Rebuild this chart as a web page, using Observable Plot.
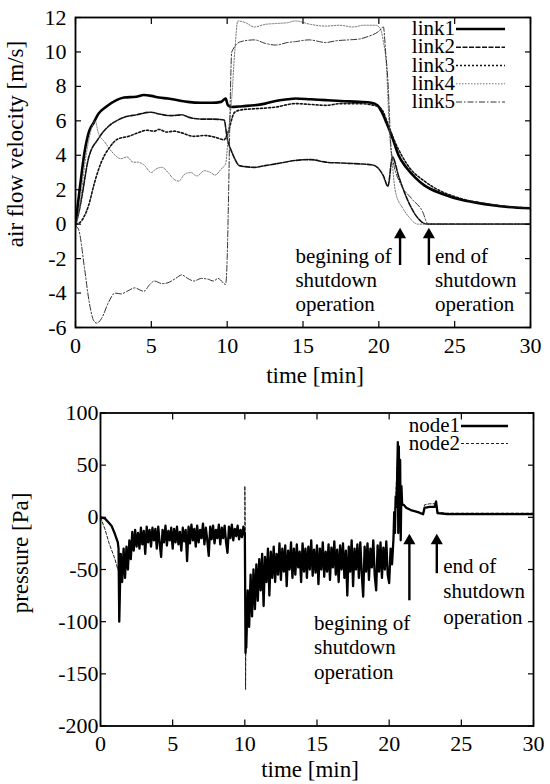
<!DOCTYPE html>
<html><head><meta charset="utf-8">
<script src="https://cdn.jsdelivr.net/npm/d3@7"></script>
<script src="https://cdn.jsdelivr.net/npm/@observablehq/plot@0.6"></script>
<style>
body{margin:0;background:#fff;}
#chart{width:550px;}
#chart svg{display:block;}
</style></head><body><div id="chart"></div>
<script>
const FONT = "'Liberation Serif', 'Times New Roman', serif";

// ---------- top panel: air flow velocity [m/s] vs time [min] ----------
const velXTicks = [0, 5, 10, 15, 20, 25, 30];
const velYTicks = [-6, -4, -2, 0, 2, 4, 6, 8, 10, 12];
const linkNames = ["link1", "link2", "link3", "link4", "link5"];

const link1 = [[0,0],[0.3,2.2],[0.6,4.2],[0.9,5.4],[1.2,5.9],[1.5,6.4],[2.0,6.8],[2.7,7.2],[3.2,7.35],[4.0,7.4],[4.5,7.5],[5.0,7.45],[5.5,7.35],[6.1,7.3],[7.0,7.15],[7.4,7.1],[8.3,7.05],[9.0,7.05],[9.6,7.1],[9.9,7.3],[10.05,6.9],[10.3,6.8],[11.0,6.85],[11.8,6.9],[12.5,7.0],[13.2,7.15],[14.0,7.25],[14.5,7.3],[15.5,7.25],[16.5,7.2],[17.5,7.15],[18.7,7.1],[19.5,7.05],[19.9,6.9],[20.2,6.5],[20.5,5.9],[20.9,5.0],[21.3,4.0],[21.8,3.3],[22.4,2.7],[23.0,2.25],[24.2,1.75],[25.5,1.4],[26.4,1.25],[27.5,1.1],[28.5,1.0],[30,0.92]];
const link2 = [[0,0],[0.2,0.6],[0.4,1.5],[0.85,3.8],[1.5,4.95],[2.2,5.7],[2.7,6.0],[3.2,6.2],[4.0,6.35],[5.0,6.5],[5.5,6.4],[6.3,6.3],[7.0,6.35],[7.5,6.2],[8.3,6.1],[9.0,6.1],[9.8,6.05],[10.0,5.0],[10.3,4.2],[10.5,3.8],[10.8,3.4],[11.8,3.3],[12.5,3.4],[13.2,3.5],[14.5,3.7],[15.5,3.75],[16.5,3.6],[17.5,3.55],[18.7,3.5],[19.5,3.45],[19.9,3.3],[20.3,2.8],[20.6,2.2],[20.9,3.9],[21.3,2.8],[21.8,1.6],[22.3,0.7],[22.8,0.15],[23.2,0],[30,0]];
const link3 = [[0,0],[0.3,0.1],[0.6,0.5],[0.85,1.05],[1.25,2.4],[1.7,3.6],[2.2,4.4],[2.8,4.95],[3.5,5.1],[4.1,5.3],[4.7,5.45],[5.2,5.4],[5.5,5.5],[6.0,5.35],[6.5,5.4],[7.0,5.3],[7.8,5.1],[8.5,5.15],[9.2,5.05],[9.8,4.9],[10.0,5.2],[10.5,6.5],[11.0,6.65],[11.8,6.7],[13.2,6.8],[14.5,7.0],[15.5,6.95],[16.5,6.9],[17.5,7.0],[18.7,7.0],[19.9,6.85],[20.3,6.5],[20.6,5.8],[21.0,4.9],[21.5,4.0],[22.0,3.3],[23.0,2.5],[24.0,1.95],[25.0,1.6],[26.0,1.35],[27.0,1.2],[28.0,1.07],[30,0.93]];
const link4 = [[0,-0.3],[0.3,1.2],[0.6,3.4],[0.9,5.0],[1.2,5.9],[1.3,6.0],[1.5,5.3],[1.9,4.8],[2.4,4.2],[3.0,3.8],[3.4,3.9],[3.8,3.6],[4.1,3.6],[4.5,3.45],[5.0,3.0],[5.3,3.2],[5.7,3.3],[6.1,3.0],[6.5,2.6],[6.8,2.5],[7.2,2.9],[7.6,3.0],[8.0,2.8],[8.5,3.1],[8.9,3.0],[9.2,2.85],[9.6,3.2],[9.9,3.5],[10.1,5.5],[10.3,7.3],[10.5,10.0],[10.7,11.8],[11.2,11.7],[11.8,11.45],[12.5,11.6],[13.2,11.65],[14.0,11.7],[14.5,11.8],[15.5,11.6],[16.5,11.5],[17.4,11.55],[18.3,11.45],[19.0,11.55],[19.8,11.55],[20.1,11.35],[20.3,10.6],[20.5,9.2],[20.7,5.4],[20.9,3.4],[21.1,1.85],[21.6,0.9],[22.0,0.4],[22.4,0.05],[22.6,0],[30,0]];
const link5 = [[0,-0.1],[0.2,-0.3],[0.6,-2.6],[0.9,-4.5],[1.2,-5.6],[1.4,-5.75],[1.7,-5.5],[2.2,-4.5],[2.6,-4.0],[3.0,-4.05],[3.4,-3.9],[3.9,-3.7],[4.2,-3.8],[4.5,-3.9],[4.9,-3.5],[5.2,-3.3],[5.7,-3.45],[6.1,-3.4],[6.6,-3.15],[7.0,-2.95],[7.4,-3.15],[7.8,-3.3],[8.3,-3.15],[8.75,-3.2],[9.1,-3.3],[9.4,-3.15],[9.9,-3.5],[10.0,-2.0],[10.1,2.0],[10.2,7.0],[10.3,10.0],[10.9,10.6],[11.8,10.7],[12.5,10.5],[13.2,10.4],[14.0,10.55],[14.5,10.6],[15.4,10.7],[16.5,10.55],[17.2,10.65],[18.0,10.7],[18.7,10.75],[19.3,10.9],[20.0,11.2],[20.3,11.45],[20.45,10.0],[20.6,8.3],[20.8,4.5],[21.0,3.4],[21.4,2.4],[22.2,1.45],[22.9,0.7],[23.2,0.05],[23.4,0],[30,0]];

// ---------- bottom panel: pressure [Pa] vs time [min] ----------
const presXTicks = [0, 5, 10, 15, 20, 25, 30];
const presYTicks = [-200, -150, -100, -50, 0, 50, 100];
const nodeNames = ["node1", "node2"];

const node1Start = [[0,0],[0.3,-1],[0.5,-4],[0.76,-8],[1.0,-16],[1.2,-24],[1.25,-30]];
const node2Start = [[0,0],[0.3,-11],[0.6,-25],[1.0,-40],[1.2,-50],[1.25,-45]];
// sampled pressure fluctuation (both nodes overlap), 0.1 min sampling
const noiseAStart = 1.3, noiseBStart = 10.1, noiseStep = 0.1;
const noiseA = [-100,-35,-62,-30,-58,-28,-50,-22,-40,-14,
  -32,-12,-28,-15,-30,-10,-26,-13,-35,-9,
  -24,-12,-28,-10,-22,-11,-30,-9,-25,-38,
  -12,-24,-8,-27,-13,-22,-10,-30,-11,-24,
  -9,-26,-14,-32,-10,-23,-12,-42,-9,-25,
  -7,-22,-11,-28,-8,-24,-12,-20,-6,-26,
  -10,-22,-37,-9,-21,-8,-25,-12,-20,-7,
  -26,-10,-20,-8,-24,-34,-9,-20,-7,-22,
  -11,-18,-8,-21,-12,-19,-9,-18];
const node1Mid = [[10.0,-15],[10.05,-130],[10.08,-80]];
const node2Mid = [[10.0,-15],[10.0,30],[10.03,-10],[10.05,-165],[10.08,-100]];
const noiseB = [-125,-70,-105,-55,-95,-50,-88,-45,-80,-40,
  -70,-35,-85,-38,-62,-30,-75,-33,-58,-28,
  -62,-35,-55,-25,-60,-30,-52,-27,-66,-32,
  -50,-24,-58,-30,-55,-26,-48,-33,-62,-25,
  -52,-30,-58,-28,-50,-22,-56,-31,-53,-27,
  -64,-30,-50,-24,-57,-33,-52,-26,-60,-29,
  -48,-23,-55,-31,-62,-27,-50,-25,-58,-32,
  -75,-28,-52,-22,-66,-30,-50,-26,-58,-24,
  -54,-76,-28,-52,-25,-60,-30,-48,-22,-56,
  -70,-27,-52,-24,-58,-29,-50,-23,-55,-63,
  -30,-45,-20];
const node1End = [[20.3,-20],[20.35,5],[20.4,-15],[20.45,20],[20.5,10],[20.55,35],[20.6,72],[20.63,-15],[20.67,68],[20.72,-5],[20.76,55],[20.8,-22],[20.85,30],[20.9,12],[21.0,12],[21.2,9],[21.5,7],[22.0,5],[22.35,3],[22.45,9],[22.8,10],[23.15,10],[23.25,15],[23.35,4],[24.0,3],[30,3]];
const node2End = [[20.3,-20],[20.45,18],[20.6,65],[20.7,10],[20.9,14],[21.2,10],[21.5,7],[22.0,5],[22.35,3],[22.45,12],[22.8,13],[23.15,13],[23.25,16],[23.35,5],[24.0,4],[30,4]];

// ---------- annotations ----------
const shutdownTimes = [21.4, 23.3];
const noteBegin = "begining of\nshutdown\noperation";
const noteEnd = "end of\nshutdown\noperation";

// ---------- helpers ----------
const pairs = (arr, yk) => arr.map(([t, v]) => ({t, [yk]: v}));
const sampled = (vals, t0) => vals.map((p, i) => ({t: +(t0 + i * noiseStep).toFixed(3), p}));
const node1Rows = [...pairs(node1Start,"p"), ...sampled(noiseA, noiseAStart), ...pairs(node1Mid,"p"), ...sampled(noiseB, noiseBStart), ...pairs(node1End,"p")];
const node2Rows = [...pairs(node2Start,"p"), ...sampled(noiseA, noiseAStart), ...pairs(node2Mid,"p"), ...sampled(noiseB, noiseBStart), ...pairs(node2End,"p")];

const linkStyles = [
  {stroke: "#000", width: 2.6, dash: null},
  {stroke: "#111", width: 1.6, dash: "5,1.5"},
  {stroke: "#111", width: 1.6, dash: "2,2"},
  {stroke: "#666", width: 0.9, dash: "1.5,1.5"},
  {stroke: "#333", width: 1.0, dash: "6,2,1.5,2"}
];
const nodeStyles = [
  {stroke: "#000", width: 2.3, dash: null},
  {stroke: "#222", width: 1.0, dash: "3,2"}
];
const linkData = [link1, link2, link3, link4, link5];
const plain = d => `${d}`;

function frameAxes(xTicks, yTicks, pad) {
  return [
    Plot.frame({stroke: "black", strokeWidth: 1.8}),
    Plot.axisX(xTicks, {anchor: "bottom", tickSize: -6, fill: "none", label: null, strokeWidth: 1.2}),
    Plot.axisX(xTicks, {anchor: "top", tickSize: -6, fill: "none", label: null, strokeWidth: 1.2}),
    Plot.axisY(yTicks, {anchor: "left", tickSize: -6, fill: "none", label: null, strokeWidth: 1.2}),
    Plot.axisY(yTicks, {anchor: "right", tickSize: -6, fill: "none", label: null, strokeWidth: 1.2}),
    Plot.axisX(xTicks, {anchor: "bottom", tickSize: 0, tickPadding: pad.x, label: null, fontSize: 22, tickFormat: plain}),
    Plot.axisY(yTicks, {anchor: "left", tickSize: 0, tickPadding: pad.y, label: null, fontSize: 22, tickFormat: plain})
  ];
}

function addText(svg, txt, x, y, size, rotate) {
  const t = d3.select(svg).append("text")
    .attr("font-family", FONT).attr("font-size", size).attr("fill", "black")
    .attr("text-anchor", "middle").text(txt);
  if (rotate) t.attr("transform", `translate(${x},${y}) rotate(-90)`);
  else t.attr("x", x).attr("y", y);
}
// stacked legend: one multi-line label block (right-aligned) plus a swatch per row
function addLegend(svg, names, styles, xEnd, y0, dy, len, size) {
  const g = d3.select(svg).append("g").attr("font-family", FONT).attr("font-size", size);
  names.forEach((n, i) => {
    const y = y0 + i * dy;
    g.append("line").attr("x1", xEnd + 1).attr("x2", xEnd + len).attr("y1", y - 6).attr("y2", y - 6)
      .attr("stroke", styles[i].stroke).attr("stroke-width", styles[i].width)
      .attr("stroke-dasharray", styles[i].dash);
  });
  const txt = g.append("text").attr("text-anchor", "end").attr("fill", "black");
  names.forEach((n, i) => {
    txt.append("tspan").attr("x", xEnd).attr("y", y0 + i * dy).text(n);
  });
}

// ---------- top chart ----------
const velChart = Plot.plot({
  width: 550, height: 392,
  marginLeft: 75, marginRight: 20, marginTop: 17, marginBottom: 65,
  style: {fontFamily: FONT, fontSize: "21px", color: "black", background: "white"},
  x: {domain: [0, 30]},
  y: {domain: [-6, 12]},
  marks: [
    ...linkData.map((d, i) => Plot.line(pairs(d, "v"), {
      x: "t", y: "v", stroke: linkStyles[i].stroke, strokeWidth: linkStyles[i].width,
      strokeDasharray: linkStyles[i].dash, curve: "monotone-x", clip: true
    })),
    Plot.ruleX(shutdownTimes, {x: d => d, y1: () => -2.4, y2: () => -0.6, strokeWidth: 2.4}),
    Plot.dot(shutdownTimes, {x: d => d, y: () => -0.62, symbol: "triangle", r: 4.5, fill: "black", stroke: null}),
    Plot.text([noteBegin], {x: () => 14.5, y: () => -3.2, text: d => d, textAnchor: "start", lineHeight: 1.15, fontSize: 21}),
    Plot.text([noteEnd], {x: () => 23.7, y: () => -3.2, text: d => d, textAnchor: "start", lineHeight: 1.15, fontSize: 21}),
    ...frameAxes(velXTicks, velYTicks, {x: 10, y: 9})
  ]
});
addText(velChart, "time [min]", 315, 383, 23, false);
addText(velChart, "air flow velocity [m/s]", 23, 144, 23, true);
addLegend(velChart, linkNames, linkStyles, 455, 35, 18.25, 50, 21);

// ---------- bottom chart ----------
const presChart = Plot.plot({
  width: 550, height: 392,
  marginLeft: 100, marginRight: 17, marginTop: 20.5, marginBottom: 58.5,
  style: {fontFamily: FONT, fontSize: "21px", color: "black", background: "white"},
  x: {domain: [0, 30]},
  y: {domain: [-200, 100]},
  marks: [
    Plot.line(node2Rows, {x: "t", y: "p", stroke: nodeStyles[1].stroke, strokeWidth: nodeStyles[1].width, strokeDasharray: nodeStyles[1].dash, clip: true}),
    Plot.line(node1Rows, {x: "t", y: "p", stroke: nodeStyles[0].stroke, strokeWidth: nodeStyles[0].width, clip: true}),
    Plot.ruleX([{t: shutdownTimes[0], tail: -80}, {t: shutdownTimes[1], tail: -54}], {x: "t", y1: "tail", y2: () => -22, strokeWidth: 2.4}),
    Plot.dot(shutdownTimes, {x: d => d, y: () => -22.4, symbol: "triangle", r: 4.5, fill: "black", stroke: null}),
    Plot.text([noteBegin], {x: () => 14.8, y: () => -124, text: d => d, textAnchor: "start", lineHeight: 1.15, fontSize: 21}),
    Plot.text([noteEnd], {x: () => 23.75, y: () => -70, text: d => d, textAnchor: "start", lineHeight: 1.2, fontSize: 21}),
    ...frameAxes(presXTicks, presYTicks, {x: 9, y: 2})
  ]
});
addText(presChart, "time [min]", 310, 385, 23, false);
addText(presChart, "pressure [Pa]", 28, 161, 23, true);
addLegend(presChart, nodeNames, nodeStyles, 460, 40, 17.5, 48, 21);

const host = document.getElementById("chart");
host.appendChild(velChart);
host.appendChild(presChart);
</script></body></html>
